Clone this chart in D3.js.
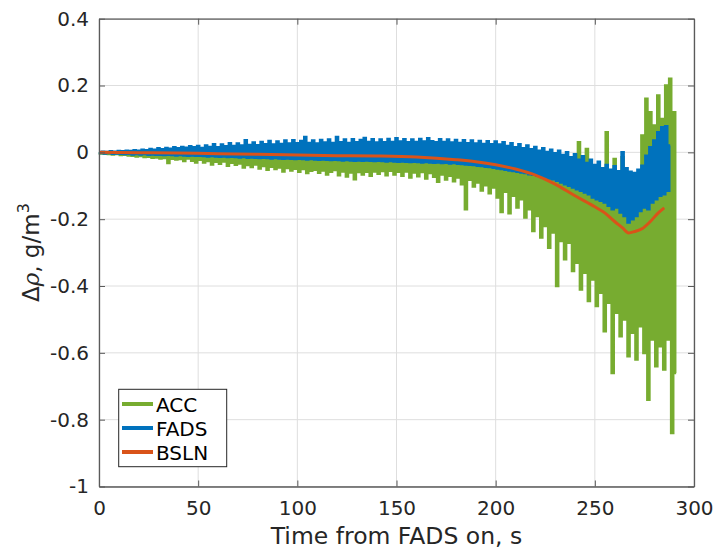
<!DOCTYPE html>
<html>
<head>
<meta charset="utf-8">
<script src="https://cdn.jsdelivr.net/npm/d3@7"></script>
<style>
  html, body { margin: 0; padding: 0; background: #fff; }
  svg { display: block; font-family: "DejaVu Sans", sans-serif; }
</style>
</head>
<body>
<svg id="chart" width="716" height="551"></svg>
<script>
// ---------------- DATA ----------------
const xTicks = [0, 50, 100, 150, 200, 250, 300];
const yTicks = [-1, -0.8, -0.6, -0.4, -0.2, 0, 0.2, 0.4];
const seriesNames = ["ACC", "FADS", "BSLN"];

// ACC: samples at t = 0,1,2,... s
const accValues = [
  0, -0.003, 0.0, -0.004, -0.001, -0.005, 0.0, -0.006, -0.002, -0.005,
  -0.002, -0.008, -0.003, -0.007, -0.002, -0.009, -0.003, -0.010, -0.004, -0.012,
  -0.004, -0.011, -0.005, -0.014, -0.004, -0.013, -0.006, -0.016, -0.005, -0.015,
  -0.006, -0.018, -0.005, -0.017, -0.007, -0.032, -0.006, -0.019, -0.008, -0.021,
  -0.007, -0.020, -0.008, -0.026, -0.007, -0.018, -0.009, -0.025, -0.008, -0.030,
  -0.009, -0.022, -0.008, -0.030, -0.010, -0.026, -0.009, -0.036, -0.010, -0.028,
  -0.010, -0.034, -0.011, -0.027, -0.010, -0.040, -0.012, -0.031, -0.011, -0.037,
  -0.012, -0.033, -0.011, -0.045, -0.013, -0.038, -0.012, -0.044, -0.013, -0.036,
  -0.012, -0.048, -0.014, -0.041, -0.013, -0.052, -0.014, -0.043, -0.015, -0.050,
  -0.014, -0.045, -0.015, -0.057, -0.016, -0.047, -0.015, -0.054, -0.016, -0.049,
  -0.016, -0.058, -0.017, -0.050, -0.016, -0.062, -0.017, -0.055, -0.018, -0.052,
  -0.017, -0.061, -0.018, -0.054, -0.017, -0.066, -0.018, -0.058, -0.019, -0.053,
  -0.018, -0.068, -0.019, -0.057, -0.018, -0.072, -0.019, -0.060, -0.020, -0.080,
  -0.019, -0.059, -0.020, -0.066, -0.019, -0.058, -0.020, -0.070, -0.021, -0.057,
  -0.020, -0.064, -0.021, -0.056, -0.020, -0.068, -0.021, -0.055, -0.022, -0.066,
  -0.021, -0.058, -0.022, -0.070, -0.021, -0.057, -0.022, -0.075, -0.023, -0.060,
  -0.022, -0.071, -0.023, -0.059, -0.022, -0.078, -0.023, -0.062, -0.024, -0.073,
  -0.023, -0.088, -0.024, -0.066, -0.025, -0.081, -0.024, -0.070, -0.026, -0.086,
  -0.025, -0.075, -0.026, -0.095, -0.027, -0.170, -0.026, -0.082, -0.028, -0.102,
  -0.027, -0.090, -0.029, -0.114, -0.028, -0.098, -0.030, -0.122, -0.031, -0.105,
  -0.030, -0.135, -0.032, -0.178, -0.031, -0.118, -0.033, -0.182, -0.034, -0.130,
  -0.033, -0.165, -0.035, -0.140, -0.036, -0.195, -0.035, -0.170, -0.037, -0.235,
  -0.038, -0.190, -0.040, -0.255, -0.042, -0.220, -0.043, -0.285, -0.045, -0.240,
  -0.046, -0.400, -0.048, -0.265, -0.050, -0.320, -0.052, -0.270, -0.030, -0.355,
  -0.055, -0.330, 0.030, -0.410, -0.058, -0.360, 0.010, -0.445, -0.060, -0.380,
  -0.062, -0.460, -0.064, -0.420, -0.066, -0.535, 0.060, -0.450, -0.068, -0.660,
  -0.020, -0.480, -0.070, -0.550, -0.015, -0.500, -0.072, -0.610, -0.070, -0.540,
  -0.068, -0.620, -0.066, -0.520, 0.050, -0.600, 0.160, -0.740, 0.120, -0.560,
  0.080, -0.640, 0.170, -0.580, 0.100, -0.650, 0.200, -0.560, 0.220, -0.840,
  0.120, -0.660
];

// FADS: samples at t = 0,1,2,... s
const fadsValues = [
  0, -0.002, 0.002, -0.003, 0.001, -0.002, 0.003, -0.004, 0.002, -0.003,
  0.004, -0.004, 0.003, -0.005, 0.005, -0.004, 0.004, -0.006, 0.006, -0.005,
  0.005, -0.006, 0.008, -0.005, 0.006, -0.007, 0.010, -0.006, 0.008, -0.007,
  0.012, -0.007, 0.009, -0.008, 0.013, -0.007, 0.011, -0.008, 0.015, -0.009,
  0.012, -0.008, 0.016, -0.009, 0.014, -0.010, 0.018, -0.009, 0.015, -0.010,
  0.019, -0.010, 0.013, -0.011, 0.020, -0.012, 0.016, -0.011, 0.024, -0.012,
  0.015, -0.013, 0.023, -0.012, 0.018, -0.014, 0.027, -0.013, 0.019, -0.014,
  0.026, -0.015, 0.020, -0.014, 0.036, -0.016, 0.022, -0.015, 0.029, -0.016,
  0.021, -0.017, 0.031, -0.016, 0.024, -0.017, 0.034, -0.018, 0.023, -0.017,
  0.032, -0.018, 0.025, -0.019, 0.035, -0.018, 0.026, -0.019, 0.036, -0.020,
  0.027, -0.019, 0.034, -0.020, 0.046, -0.021, 0.028, -0.020, 0.035, -0.021,
  0.026, -0.022, 0.037, -0.021, 0.029, -0.022, 0.038, -0.023, 0.028, -0.022,
  0.046, -0.023, 0.030, -0.024, 0.038, -0.023, 0.028, -0.024, 0.039, -0.025,
  0.030, -0.024, 0.037, -0.025, 0.043, -0.024, 0.031, -0.025, 0.039, -0.026,
  0.029, -0.025, 0.038, -0.026, 0.030, -0.027, 0.040, -0.026, 0.031, -0.027,
  0.042, -0.028, 0.032, -0.027, 0.039, -0.028, 0.030, -0.029, 0.038, -0.028,
  0.031, -0.029, 0.040, -0.030, 0.032, -0.029, 0.042, -0.030, 0.033, -0.031,
  0.030, -0.030, 0.039, -0.032, 0.031, -0.031, 0.038, -0.033, 0.029, -0.032,
  0.037, -0.034, 0.028, -0.035, 0.036, -0.036, 0.027, -0.037, 0.035, -0.038,
  0.026, -0.040, 0.034, -0.041, 0.025, -0.043, 0.033, -0.044, 0.024, -0.046,
  0.032, -0.048, 0.023, -0.050, 0.030, -0.052, 0.019, -0.054, 0.027, -0.056,
  0.015, -0.058, 0.024, -0.060, 0.012, -0.062, 0.020, -0.065, 0.009, -0.067,
  0.016, -0.070, 0.005, -0.072, 0.012, -0.075, 0.001, -0.078, 0.008, -0.080,
  -0.003, -0.085, 0.005, -0.090, -0.008, -0.095, 0.000, -0.100, -0.015, -0.105,
  -0.006, -0.110, -0.022, -0.115, -0.012, -0.120, -0.032, -0.125, -0.022, -0.135,
  -0.038, -0.140, -0.028, -0.145, -0.048, -0.150, -0.038, -0.160, -0.052, -0.170,
  -0.042, -0.165, -0.057, -0.180, 0.000, -0.190, -0.048, -0.210, -0.058, -0.200,
  -0.062, -0.190, -0.052, -0.175, -0.040, -0.165, -0.010, -0.170, 0.015, -0.150,
  0.035, -0.140, 0.060, -0.130, 0.075, -0.125, 0.078, -0.115, 0.020
];

// BSLN: smooth baseline, read at these times
const bslnTimes  = [0, 20, 40, 60, 80, 100, 120, 140, 160, 180, 190, 200, 210, 220, 230, 240, 250, 255, 260, 264, 267, 270, 274, 278, 282, 285];
const bslnValues = [0, -0.001, -0.002, -0.004, -0.006, -0.008, -0.010, -0.011, -0.014, -0.022, -0.028, -0.037, -0.050, -0.068, -0.095, -0.130, -0.163, -0.181, -0.207, -0.226, -0.241, -0.237, -0.228, -0.207, -0.181, -0.166];

// ---------------- CHART ----------------
const colors = { ACC: "#77AC30", FADS: "#0072BD", BSLN: "#D95319" };
const svg = d3.select("#chart");
const L = 99, R = 694, T = 18.7, B = 486.5;

const x = d3.scaleLinear().domain([0, 300]).range([L, R]);
const y = d3.scaleLinear().domain([-1, 0.4]).range([B, T]);

const axisColor = "#5a5a5a";
const textColor = "#262626";

// grid
const grid = svg.append("g");
grid.selectAll(".gx").data(xTicks).join("line")
  .attr("x1", d => x(d)).attr("x2", d => x(d)).attr("y1", T).attr("y2", B)
  .attr("stroke", "#dedede").attr("stroke-width", 1);
grid.selectAll(".gy").data(yTicks).join("line")
  .attr("x1", L).attr("x2", R).attr("y1", d => y(d)).attr("y2", d => y(d))
  .attr("stroke", "#dedede").attr("stroke-width", 1);

// data
const accData = accValues.map((v, i) => [i, v]);
const fadsData = fadsValues.map((v, i) => [i, v]);
const bslnData = bslnTimes.map((t, i) => [t, bslnValues[i]]);

const stepLine = d3.line().x(d => x(d[0])).y(d => y(d[1])).curve(d3.curveStep);
const smooth = d3.line().x(d => x(d[0])).y(d => y(d[1])).curve(d3.curveMonotoneX);

svg.append("path").datum(accData).attr("d", stepLine)
  .attr("fill", "none").attr("stroke", colors.ACC).attr("stroke-width", 2.6).attr("stroke-linejoin", "miter");
svg.append("path").datum(fadsData).attr("d", stepLine)
  .attr("fill", "none").attr("stroke", colors.FADS).attr("stroke-width", 2.6).attr("stroke-linejoin", "miter");
svg.append("path").datum(bslnData).attr("d", smooth)
  .attr("fill", "none").attr("stroke", colors.BSLN).attr("stroke-width", 3).attr("stroke-linejoin", "round");

// axes (ticks inside)
function styleAxis(g) {
  g.select(".domain").attr("stroke", axisColor).attr("stroke-width", 1.3);
  g.selectAll(".tick line").attr("stroke", axisColor).attr("stroke-width", 1);
  g.selectAll(".tick text").attr("fill", textColor).attr("font-size", 20)
   .attr("font-family", "DejaVu Sans, sans-serif");
}
const fmt = d => (d === 0 ? "0" : String(d));

svg.append("g").attr("transform", `translate(0,${B})`)
  .call(d3.axisBottom(x).tickValues(xTicks).tickSizeInner(-6).tickSizeOuter(0).tickPadding(14).tickFormat(fmt))
  .call(styleAxis);
svg.append("g").attr("transform", `translate(0,${T})`)
  .call(d3.axisTop(x).tickValues(xTicks).tickSizeInner(-6).tickSizeOuter(0).tickFormat(""))
  .call(styleAxis);
svg.append("g").attr("transform", `translate(${L},0)`)
  .call(d3.axisLeft(y).tickValues(yTicks).tickSizeInner(-6).tickSizeOuter(0).tickPadding(10).tickFormat(fmt))
  .call(styleAxis);
svg.append("g").attr("transform", `translate(${R},0)`)
  .call(d3.axisRight(y).tickValues(yTicks).tickSizeInner(-6).tickSizeOuter(0).tickFormat(""))
  .call(styleAxis);

// axis labels
svg.append("text")
  .attr("x", (L + R) / 2).attr("y", 544)
  .attr("text-anchor", "middle").attr("font-size", 23.5).attr("fill", textColor)
  .text("Time from FADS on, s");

const yl = svg.append("text")
  .attr("transform", `translate(39,${(T + B) / 2}) rotate(-90)`)
  .attr("text-anchor", "middle").attr("font-size", 23).attr("fill", textColor);
yl.append("tspan").text("Δ");
yl.append("tspan").attr("font-style", "italic").attr("font-family", "DejaVu Serif, serif").text("ρ");
yl.append("tspan").text(", g/m");
yl.append("tspan").attr("font-size", 16).attr("dy", -10).text("3");

// legend
const lg = svg.append("g");
lg.append("rect").attr("x", 118.7).attr("y", 389.3).attr("width", 108).attr("height", 77.4)
  .attr("fill", "#fff").attr("stroke", "#262626").attr("stroke-width", 1);
seriesNames.forEach((name, i) => {
  const yy = 404 + i * 24;
  lg.append("line").attr("x1", 122).attr("x2", 153).attr("y1", yy).attr("y2", yy)
    .attr("stroke", colors[name]).attr("stroke-width", 4);
  lg.append("text").attr("x", 156).attr("y", yy + 7.5).attr("font-size", 20)
    .attr("fill", "#000").text(name);
});
</script>
</body>
</html>
